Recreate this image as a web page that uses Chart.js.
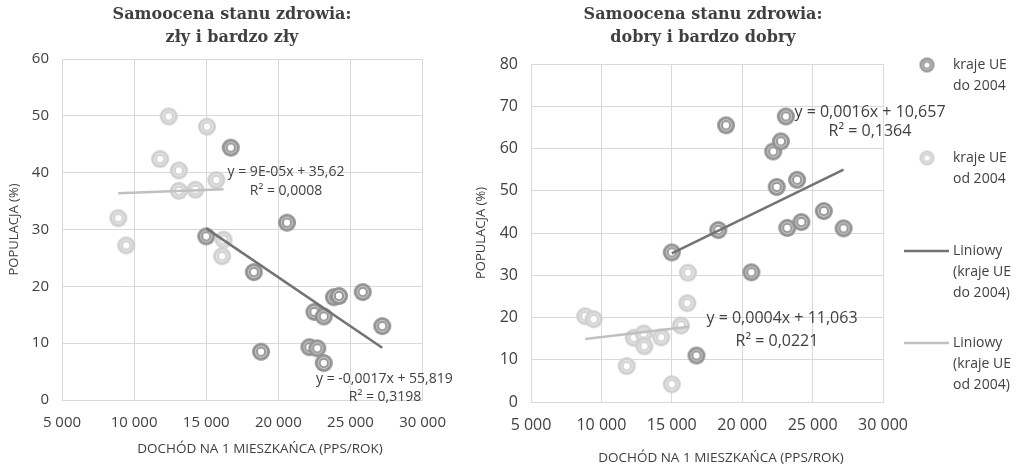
<!DOCTYPE html>
<html>
<head>
<meta charset="utf-8">
<script src="https://cdn.jsdelivr.net/npm/chart.js@4"></script>
<style>
  body { margin: 0; background: #fff; width: 1017px; height: 469px; overflow: hidden; }
  .box { position: absolute; top: 0; height: 469px; }
  #leftBox { left: 0; width: 460px; }
  #rightBox { left: 470px; width: 547px; }
</style>
</head>
<body>
<div class="box" id="leftBox"><canvas id="left-chart"></canvas></div>
<div class="box" id="rightBox"><canvas id="right-chart"></canvas></div>
<script>
// zły i bardzo zły
const badOldX = [15000, 16700, 20600, 18300, 18800, 22500, 23150, 23850, 24200, 25850, 27200, 22150, 22700, 23150];
const badOldY = [28.8, 44.4, 31.2, 22.5, 8.5, 15.5, 14.7, 18.1, 18.3, 19.0, 13.0, 9.3, 9.1, 6.5];
const badNewX = [12400, 15050, 11800, 13100, 15700, 13100, 14250, 8900, 9450, 16200, 16100];
const badNewY = [49.9, 48.1, 42.4, 40.4, 38.7, 36.8, 37.0, 32.0, 27.2, 28.2, 25.3];
const badTrendOld = [[15000, 30.2], [27200, 9.2]];
const badTrendNew = [[8900, 36.4], [16200, 37.1]];

// dobry i bardzo dobry
const goodOldX = [15000, 18300, 18850, 20650, 16750, 22200, 22450, 22750, 23100, 23200, 23900, 24200, 25800, 27200];
const goodOldY = [35.4, 40.7, 65.5, 30.7, 11.0, 59.3, 50.9, 61.7, 67.6, 41.2, 52.6, 42.6, 45.2, 41.1];
const goodNewX = [8850, 9450, 12300, 13000, 13050, 14250, 11800, 15000, 15650, 16100, 16150];
const goodNewY = [20.3, 19.6, 15.2, 16.2, 13.2, 15.3, 8.5, 4.2, 18.1, 23.4, 30.6];
const goodTrendOld = [[15000, 35.2], [27200, 55.0]];
const goodTrendNew = [[8850, 14.9], [16200, 17.8]];

const xTicks = [5000, 10000, 15000, 20000, 25000, 30000];
const legendLabels = [['kraje UE', 'do 2004'], ['kraje UE', 'od 2004'], ['Liniowy', '(kraje UE', 'do 2004)'], ['Liniowy', '(kraje UE', 'od 2004)']];

const DARK = '#939393';
const LIGHT = '#d0d0d0';
const DARK_LINE = '#737373';
const LIGHT_LINE = '#c0c0c0';
const TEXT = '#404040';
const SANS = '"Open Sans", sans-serif';

function ring(color, r) {
    const c = document.createElement('canvas');
    const s = Math.ceil(2 * r + 2);
    c.width = c.height = s;
    const g = c.getContext('2d');
    const m = s / 2;
    g.fillStyle = color;
    g.beginPath(); g.arc(m, m, r, 0, Math.PI * 2); g.fill();
    g.strokeStyle = 'rgba(255,255,255,0.5)';
    g.lineWidth = 1.2;
    g.beginPath(); g.arc(m, m, r * 0.62, 0, Math.PI * 2); g.stroke();
    g.fillStyle = '#fff';
    g.beginPath(); g.arc(m, m, r * 0.35, 0, Math.PI * 2); g.fill();
    return c;
}

const pts = (xs, ys) => xs.map((x, i) => ({x: x, y: ys[i]}));
const line = arr => arr.map(p => ({x: p[0], y: p[1]}));
const fmt = v => String(v).replace(/\B(?=(\d{3})+(?!\d))/g, ' ');

// text drawn on the canvas: titles, x axis title, trend equations, legend
const textPlugin = {
    id: 'texts',
    afterDraw(chart, args, opts) {
        const ctx = chart.ctx;
        ctx.save();
        ctx.textBaseline = 'middle';
        ctx.textAlign = 'center';
        ctx.fillStyle = TEXT;
        ctx.font = 'bold 16px "DejaVu Serif", serif';
        opts.title.forEach((t, i) => ctx.fillText(t, opts.titleX, 15 + i * 23));
        ctx.font = '13.5px ' + SANS;
        ctx.fillText('DOCHÓD NA 1 MIESZKAŃCA (PPS/ROK)', opts.xTitleX, opts.xTitleY);
        ctx.font = opts.eqFont + ' ' + SANS;
        opts.eqs.forEach(e => {
            ctx.textAlign = e.align || 'center';
            ctx.fillText(e.text, e.x, e.y);
        });
        if (opts.legend) {
            ctx.textAlign = 'left';
            ctx.font = '14px ' + SANS;
            const lg = opts.legend;
            const marks = [ring(DARK, 7.5), ring(LIGHT, 7.5)];
            lg.rows.forEach((row, i) => {
                if (i < 2) {
                    ctx.drawImage(marks[i], lg.markX - marks[i].width / 2, row - marks[i].height / 2);
                } else {
                    ctx.strokeStyle = i === 2 ? DARK_LINE : LIGHT_LINE;
                    ctx.lineWidth = 2.5;
                    ctx.beginPath(); ctx.moveTo(lg.lineX0, row); ctx.lineTo(lg.lineX1, row); ctx.stroke();
                }
                legendLabels[i].forEach((t, j) => ctx.fillText(t, lg.textX, row + j * 21));
            });
        }
        ctx.restore();
    }
};

function makeChart(canvas, cfg) {
    return new Chart(canvas.getContext('2d'), {
        type: 'scatter',
        data: {
            datasets: [
                {data: line(cfg.trendOld), showLine: true, borderColor: DARK_LINE, borderWidth: 2.5, pointRadius: 0, order: 0},
                {data: line(cfg.trendNew), showLine: true, borderColor: LIGHT_LINE, borderWidth: 2.5, pointRadius: 0, order: 1},
                {data: pts(cfg.newX, cfg.newY), pointStyle: ring(LIGHT, 9), pointRadius: 9, order: 2},
                {data: pts(cfg.oldX, cfg.oldY), pointStyle: ring(DARK, 9), pointRadius: 9, order: 3},
            ]
        },
        options: {
            responsive: true,
            maintainAspectRatio: false,
            animation: false,
            events: [],
            layout: {padding: {left: 0, top: cfg.top, right: cfg.right, bottom: 0}},
            scales: {
                x: {
                    type: 'linear',
                    min: 5000, max: 30000,
                    afterBuildTicks: s => { s.ticks = xTicks.map(v => ({value: v})); },
                    afterFit: s => { s.height = cfg.xHeight; },
                    grid: {color: '#d9d9d9', drawTicks: false},
                    border: {color: '#d9d9d9'},
                    ticks: {color: TEXT, font: {family: SANS, size: cfg.tickSize}, padding: cfg.xPad, callback: fmt, maxRotation: 0}
                },
                y: {
                    min: 0, max: cfg.yMax,
                    ticks: {stepSize: 10, color: TEXT, font: {family: SANS, size: cfg.tickSize}, padding: cfg.yPad},
                    afterFit: s => { s.width = cfg.yWidth; },
                    grid: {color: '#d9d9d9', drawTicks: false},
                    border: {color: '#d9d9d9'},
                    title: {display: true, text: 'POPULACJA (%)', color: TEXT, font: {family: SANS, size: 13}, padding: {top: cfg.yTitlePad, bottom: 0}}
                }
            },
            plugins: {
                legend: {display: false},
                tooltip: {enabled: false},
                texts: cfg.texts
            }
        },
        plugins: [textPlugin]
    });
}

makeChart(document.querySelector('#left-chart'), {
    oldX: badOldX, oldY: badOldY, newX: badNewX, newY: badNewY,
    trendOld: badTrendOld, trendNew: badTrendNew,
    yMax: 60, top: 59, right: 34, xHeight: 69, yWidth: 62,
    tickSize: 15, xPad: 14, yPad: 13, yTitlePad: 6,
    texts: {
        title: ['Samoocena stanu zdrowia:', 'zły i bardzo zły'], titleX: 232,
        xTitleX: 260, xTitleY: 449,
        eqFont: '14px',
        eqs: [
            {text: 'y = 9E-05x + 35,62', x: 286, y: 172},
            {text: 'R² = 0,0008', x: 286, y: 191},
            {text: 'y = -0,0017x + 55,819', x: 316, y: 379, align: 'left'},
            {text: 'R² = 0,3198', x: 385, y: 397}
        ]
    }
});

makeChart(document.querySelector('#right-chart'), {
    oldX: goodOldX, oldY: goodOldY, newX: goodNewX, newY: goodNewY,
    trendOld: goodTrendOld, trendNew: goodTrendNew,
    yMax: 80, top: 64, right: 134, xHeight: 67, yWidth: 61,
    tickSize: 16, xPad: 14, yPad: 13, yTitlePad: 3,
    texts: {
        title: ['Samoocena stanu zdrowia:', 'dobry i bardzo dobry'], titleX: 233,
        xTitleX: 251, xTitleY: 458,
        eqFont: '16px',
        eqs: [
            {text: 'y = 0,0016x + 10,657', x: 400, y: 112},
            {text: 'R² = 0,1364', x: 400, y: 131},
            {text: 'y = 0,0004x + 11,063', x: 312, y: 318},
            {text: 'R² = 0,0221', x: 307, y: 341}
        ],
        legend: {markX: 457, textX: 483, lineX0: 434, lineX1: 479, rows: [65, 158, 251, 343]}
    }
});
</script>
</body>
</html>
